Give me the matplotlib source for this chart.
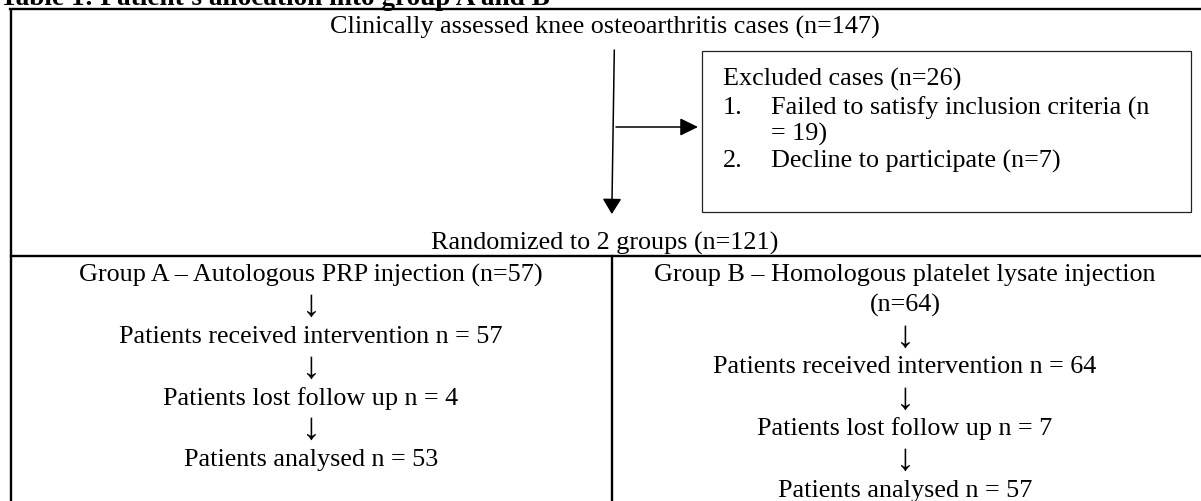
import matplotlib
matplotlib.use("Agg")
import matplotlib.pyplot as plt
from matplotlib.patches import Rectangle

# ---- data ----
title = "Table 1: Patient's allocation into group A and B"
n_assessed = 147
n_excluded = 26
n_failed_criteria = 19
n_declined = 7
n_randomized = 121
group_labels = ["Group A \u2013 Autologous PRP injection",
                "Group B \u2013 Homologous platelet lysate injection"]
n_allocated = [57, 64]
n_received = [57, 64]
n_lost = [4, 7]
n_analysed = [53, 57]

FONT = ["Liberation Serif", "DejaVu Serif"]
FS = 18.8
ARROW = "\u2193"

W, H = 1201, 501
fig = plt.figure(figsize=(W / 100, H / 100), dpi=100)
ax = fig.add_axes([0, 0, 1, 1])
ax.set_xlim(0, W)
ax.set_ylim(H, 0)
ax.axis("off")

def txt(x, y, s, ha="center", va="center", **kw):
    ax.text(x, y, s, ha=ha, va=va, fontsize=kw.pop("fontsize", FS),
            family=FONT, color="black", **kw)

# title (partly cut at top, as in the source)
txt(0, 5, title, ha="left", va="baseline", fontweight="bold", fontsize=19.6)

# outer table lines
lw_t = 1.7
ax.plot([11, 11], [8.2, 505], color="black", lw=lw_t, solid_capstyle="butt")
ax.plot([10.2, 1205], [9, 9], color="black", lw=lw_t)
ax.plot([11, 1205], [256, 256], color="black", lw=lw_t)
ax.plot([612, 612], [256, 505], color="black", lw=lw_t)

# top cell text
txt(605, 27, f"Clinically assessed knee osteoarthritis cases (n={n_assessed})")
txt(605, 243, f"Randomized to 2 groups (n={n_randomized})")

# main arrow
ax.annotate("", xy=(611.8, 214), xytext=(614.3, 50),
            arrowprops=dict(arrowstyle="-|>,head_length=0.47,head_width=0.29",
                            mutation_scale=20, lw=1.1, color="black",
                            shrinkA=0, shrinkB=0))
# branch arrow
ax.annotate("", xy=(698, 127), xytext=(616, 127),
            arrowprops=dict(arrowstyle="-|>,head_length=0.55,head_width=0.27",
                            mutation_scale=20, lw=1.1, color="black",
                            shrinkA=0, shrinkB=0))

# excluded box
ax.add_patch(Rectangle((702, 51), 1191 - 702, 212 - 51, fill=False,
                       edgecolor="#222222", lw=0.9))
txt(723, 79, f"Excluded cases (n={n_excluded})", ha="left")
txt(723, 108, "1.", ha="left")
txt(771, 108, "Failed to satisfy inclusion criteria (n", ha="left")
txt(771, 134, f"= {n_failed_criteria})", ha="left")
txt(723, 161, "2.", ha="left")
txt(771, 161, f"Decline to participate (n={n_declined})", ha="left")

# group columns
step = 30.8
cx = [311, 905]
y0 = 275

def column(x, lines):
    for i, s in enumerate(lines):
        if s == ARROW:
            txt(x, y0 + step * i + 1, s, fontsize=27)
        else:
            txt(x, y0 + step * i, s)

column(cx[0], [f"{group_labels[0]} (n={n_allocated[0]})", ARROW,
               f"Patients received intervention n = {n_received[0]}", ARROW,
               f"Patients lost follow up n = {n_lost[0]}", ARROW,
               f"Patients analysed n = {n_analysed[0]}"])
column(cx[1], [group_labels[1], f"(n={n_allocated[1]})", ARROW,
               f"Patients received intervention n = {n_received[1]}", ARROW,
               f"Patients lost follow up n = {n_lost[1]}", ARROW,
               f"Patients analysed n = {n_analysed[1]}"])

fig.savefig("out.png", dpi=100)
